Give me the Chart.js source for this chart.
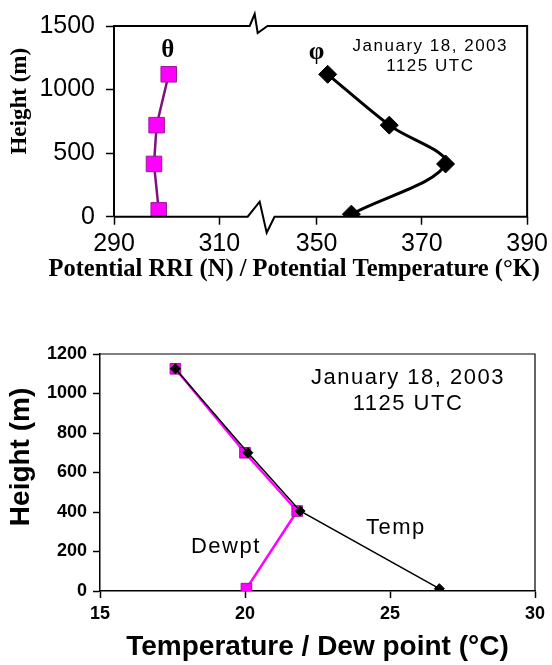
<!DOCTYPE html>
<html>
<head>
<meta charset="utf-8">
<script src="https://cdn.jsdelivr.net/npm/chart.js@4.4.1/dist/chart.umd.min.js"></script>
<style>
  html, body { margin: 0; padding: 0; background: #fff; }
  #wrap { position: relative; width: 552px; height: 665px; overflow: hidden; background: #fff; }
  #topChart { position: absolute; left: 0; top: 0; }
  #botChart { position: absolute; left: 0; top: 300px; }
</style>
</head>
<body>
<div id="wrap">
  <canvas id="topChart" width="552" height="300"></canvas>
  <canvas id="botChart" width="552" height="365"></canvas>
</div>
<script>
// ================= DATA =================
// --- Top panel: potential RRI (theta) and potential temperature (phi) ---
const topHeightTicks = [0, 500, 1000, 1500];
const topXTicks = [290, 310, 350, 370, 390];
const thetaHeights = [1120, 720, 415, 50];
const thetaValues  = [300.4, 298.1, 297.6, 298.5];
const phiHeights   = [1120, 720, 415, 20];
const phiValues    = [352.1, 363.8, 374.5, 356.6];
const topXBreak    = [315.4, 342];   // axis is broken between these values
const topBreakGap  = 5.1;            // visible width of the break, in axis units

// --- Bottom panel: sounding temperature / dew point ---
const soundingHeights = [1125, 700, 405, 12];
const tempValues  = [17.6, 20.1, 21.9, 26.7];
const dewptValues = [17.6, 20.0, 21.8, 20.05];
const botXTicks = [15, 20, 25, 30];
const botYTicks = [0, 200, 400, 600, 800, 1000, 1200];
const dateLines = ['January 18, 2003', '1125 UTC'];

// ================= HELPERS =================
const SANS = "'Liberation Sans', Arial, sans-serif";
const SERIF = "'Liberation Serif', 'Times New Roman', serif";
const SHIFT = topXBreak[1] - topXBreak[0] - topBreakGap;
const pts = (xs, ys) => xs.map((v, i) => ({ x: v, y: ys[i] }));
const plain = v => String(v);

function makeTextPlugin(items) {
  return {
    id: 'textLabels',
    afterDatasetsDraw(chart) {
      const ctx = chart.ctx;
      items.forEach(it => {
        const px = chart.scales[it.xAxis].getPixelForValue(it.x);
        const py = chart.scales[it.yAxis].getPixelForValue(it.y);
        ctx.save();
        ctx.font = it.font;
        ctx.fillStyle = '#000';
        ctx.textAlign = 'center';
        ctx.textBaseline = 'middle';
        if ('letterSpacing' in ctx) ctx.letterSpacing = it.spacing || '0px';
        ctx.fillText(it.text, px, py);
        ctx.restore();
      });
    }
  };
}

// frame with broken x axis (top panel)
const brokenFrame = {
  id: 'brokenFrame',
  afterDraw(chart) {
    const { ctx, chartArea: a, scales } = chart;
    const gL = scales.x.getPixelForValue(topXBreak[0]);
    const gR = scales.xPhi.getPixelForValue(topXBreak[1]);
    ctx.save();
    ctx.strokeStyle = '#000';
    ctx.lineWidth = 2;
    ctx.lineJoin = 'miter';
    ctx.beginPath();
    ctx.moveTo(a.left, a.bottom);
    ctx.lineTo(gL, a.bottom);
    ctx.lineTo(gL + 12, a.bottom - 15);
    ctx.lineTo(gL + 19, a.bottom + 16);
    ctx.lineTo(gR, a.bottom);
    ctx.lineTo(a.right, a.bottom);
    ctx.lineTo(a.right, a.top);
    ctx.lineTo(gR - 7, a.top);
    ctx.lineTo(gL + 10, a.top + 7);
    ctx.lineTo(gL + 7, a.top - 12);
    ctx.lineTo(gL + 2, a.top);
    ctx.lineTo(a.left, a.top);
    ctx.stroke();
    ctx.restore();
  }
};

const boxFrame = {
  id: 'boxFrame',
  afterDraw(chart) {
    const { ctx, chartArea: a } = chart;
    ctx.save();
    ctx.strokeStyle = '#000';
    ctx.lineWidth = 1.2;
    ctx.beginPath();
    ctx.moveTo(a.left, a.top);
    ctx.lineTo(a.right, a.top);
    ctx.lineTo(a.right, a.bottom);
    ctx.stroke();
    ctx.restore();
  }
};

Chart.defaults.color = '#000';

// ================= TOP CHART =================
new Chart(document.getElementById('topChart'), {
  type: 'scatter',
  data: {
    datasets: [
      {
        label: 'θ', xAxisID: 'x', yAxisID: 'y',
        data: pts(thetaValues, thetaHeights),
        showLine: true, tension: 0,
        borderColor: '#80107F', borderWidth: 2.5,
        pointStyle: 'rect', pointRadius: 11,
        pointBackgroundColor: '#FF00FF', pointBorderColor: '#9A1A99', pointBorderWidth: 1
      },
      {
        label: 'φ', xAxisID: 'xPhi', yAxisID: 'y',
        data: pts(phiValues, phiHeights),
        showLine: true, tension: 0.35,
        borderColor: '#000', borderWidth: 3,
        pointStyle: 'rectRot', pointRadius: 9,
        pointBackgroundColor: '#000', pointBorderColor: '#000', pointBorderWidth: 1
      }
    ]
  },
  options: {
    responsive: false, animation: false, devicePixelRatio: 1,
    layout: { padding: { left: 0, right: 12, top: 23, bottom: 0 } },
    plugins: {
      legend: { display: false },
      tooltip: { enabled: false },
      title: {
        display: true, position: 'bottom', align: 'end',
        text: 'Potential RRI (N) / Potential Temperature (°K)',
        color: '#000',
        font: { family: SERIF, size: 24.5, weight: 'bold', lineHeight: 1.2 },
        padding: { top: 4, bottom: 15.3 }
      }
    },
    scales: {
      x: {
        type: 'linear', position: 'bottom',
        min: 290, max: 390 - SHIFT,
        afterBuildTicks: s => { s.ticks = topXTicks.map(v => ({ value: v > topXBreak[0] ? v - SHIFT : v })); },
        afterFit: s => { s.height = 34.6; },
        border: { display: false },
        grid: { drawOnChartArea: false, tickLength: 8, tickColor: '#000', tickWidth: 1.5 },
        ticks: {
          color: '#000', padding: 4, maxRotation: 0, autoSkip: false,
          font: { family: SANS, size: 25, lineHeight: 1.2 },
          callback: (v, i) => String(topXTicks[i])
        }
      },
      xPhi: { type: 'linear', position: 'bottom', display: false, min: 290 + SHIFT, max: 390 },
      y: {
        type: 'linear', min: 0, max: 1500,
        afterBuildTicks: s => { s.ticks = topHeightTicks.map(v => ({ value: v })); },
        afterFit: s => { s.width = 114; },
        border: { display: true, color: '#000', width: 2 },
        grid: { drawOnChartArea: false, tickLength: 8, tickColor: '#000', tickWidth: 1.5 },
        ticks: { color: '#000', padding: 11, font: { family: SANS, size: 25 }, callback: plain },
        title: {
          display: true, text: '       Height (m)', color: '#000',
          font: { family: SERIF, size: 23, weight: 'bold', lineHeight: 1.2 },
          padding: { top: 6, bottom: 0 }
        }
      },
      yRight: {
        type: 'linear', position: 'right', min: 0, max: 1500,
        afterFit: s => { s.width = 12; },
        border: { display: false }, grid: { display: false }, ticks: { display: false }
      }
    }
  },
  plugins: [brokenFrame, makeTextPlugin([
    { text: 'θ', xAxis: 'x', yAxis: 'y', x: 300.2, y: 1310, font: `bold 25px ${SERIF}` },
    { text: 'φ', xAxis: 'xPhi', yAxis: 'y', x: 350, y: 1290, font: `bold 25px ${SERIF}` },
    { text: dateLines[0], xAxis: 'xPhi', yAxis: 'y', x: 371.6, y: 1338, font: `17px ${SANS}`, spacing: '1.5px' },
    { text: dateLines[1], xAxis: 'xPhi', yAxis: 'y', x: 371.6, y: 1185, font: `17px ${SANS}`, spacing: '1.5px' }
  ])]
});

// ================= BOTTOM CHART =================
new Chart(document.getElementById('botChart'), {
  type: 'scatter',
  data: {
    datasets: [
      {
        label: 'Temp',
        data: pts(tempValues, soundingHeights),
        showLine: true, tension: 0,
        borderColor: '#000', borderWidth: 1.5,
        pointStyle: 'rectRot', pointRadius: 5,
        pointBackgroundColor: '#000', pointBorderColor: '#000', pointBorderWidth: 1
      },
      {
        label: 'Dewpt',
        data: pts(dewptValues, soundingHeights),
        showLine: true, tension: 0,
        borderColor: '#FF00FF', borderWidth: 2.5,
        pointStyle: 'rect', pointRadius: 7.5,
        pointBackgroundColor: '#FF00FF', pointBorderColor: '#A010A0', pointBorderWidth: 1
      }
    ]
  },
  options: {
    responsive: false, animation: false, devicePixelRatio: 1,
    layout: { padding: { left: 0, right: 17, top: 54, bottom: 0 } },
    plugins: { legend: { display: false }, tooltip: { enabled: false } },
    scales: {
      x: {
        type: 'linear', min: 15, max: 30,
        afterBuildTicks: s => { s.ticks = botXTicks.map(v => ({ value: v })); },
        afterFit: s => { s.height = 74; },
        border: { display: true, color: '#000', width: 1.5 },
        grid: { drawOnChartArea: false, tickLength: 7, tickColor: '#000', tickWidth: 1.5 },
        ticks: { color: '#000', padding: 5, maxRotation: 0, autoSkip: false, callback: plain,
                 font: { family: SANS, size: 18, weight: 'bold', lineHeight: 1.2 } },
        title: {
          display: true, text: 'Temperature / Dew point (°C)', color: '#000',
          font: { family: SANS, size: 28, weight: 'bold', lineHeight: 1.2 },
          padding: { top: 0, bottom: 1 }
        }
      },
      y: {
        type: 'linear', min: 0, max: 1200,
        afterBuildTicks: s => { s.ticks = botYTicks.map(v => ({ value: v })); },
        afterFit: s => { s.width = 100; },
        border: { display: true, color: '#000', width: 1.5 },
        grid: { drawOnChartArea: false, tickLength: 7, tickColor: '#000', tickWidth: 1.5 },
        ticks: { color: '#000', padding: 6, callback: plain, font: { family: SANS, size: 18, weight: 'bold' } },
        title: {
          display: true, text: '    Height (m)', color: '#000',
          font: { family: SANS, size: 28, weight: 'bold', lineHeight: 1.2 },
          padding: { top: 4, bottom: 0 }
        }
      }
    }
  },
  plugins: [boxFrame, makeTextPlugin([
    { text: dateLines[0], xAxis: 'x', yAxis: 'y', x: 25.62, y: 1078, font: `22px ${SANS}`, spacing: '1.5px' },
    { text: dateLines[1], xAxis: 'x', yAxis: 'y', x: 25.62, y: 947, font: `22px ${SANS}`, spacing: '1.5px' },
    { text: 'Temp', xAxis: 'x', yAxis: 'y', x: 25.2, y: 319, font: `22px ${SANS}`, spacing: '1.5px' },
    { text: 'Dewpt', xAxis: 'x', yAxis: 'y', x: 19.34, y: 223, font: `22px ${SANS}`, spacing: '1.5px' }
  ])]
});
</script>
</body>
</html>
